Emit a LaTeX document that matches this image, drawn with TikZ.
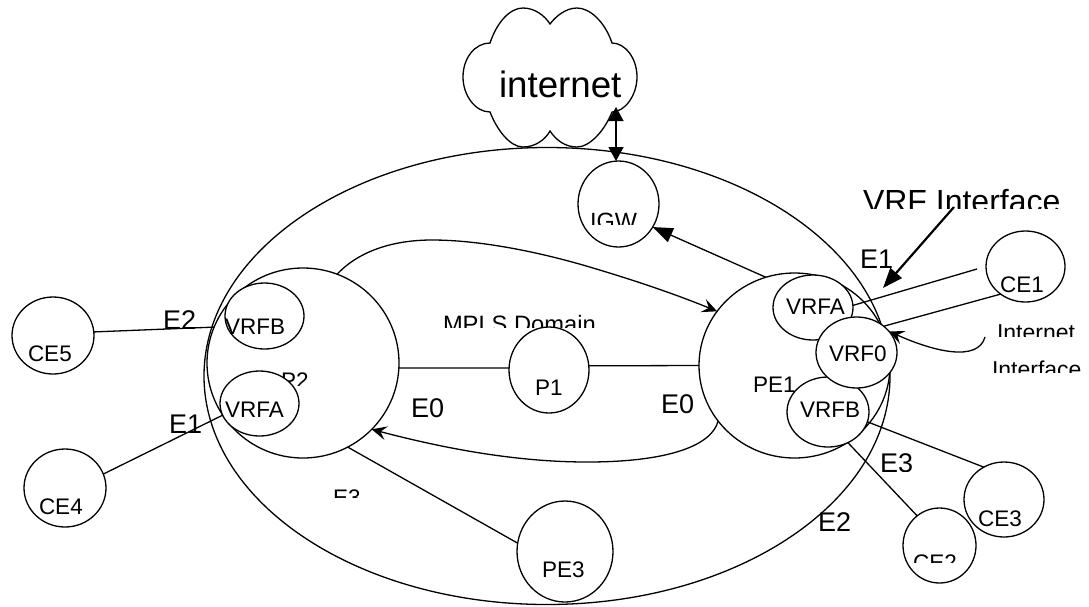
\documentclass[tikz,border=0pt]{standalone}
\usepackage{fontspec}
\setmainfont{Liberation Sans}
\usetikzlibrary{arrows.meta,shapes.geometric}
\tikzset{
  x=1pt,y=-1pt,
  conn/.style={line width=1.3pt,draw=black},
  blob/.style={ellipse,draw=black,fill=white,line width=1.3pt,inner sep=0pt,outer sep=0pt},
  tb/.style={inner sep=0pt,outer sep=0pt,anchor=base west,text=black},
  s22/.style={tb,font=\fontsize{22.5}{24}\selectfont},
  s27/.style={tb,font=\fontsize{27}{30}\selectfont},
  big/.style={-{Triangle[length=20pt,width=15pt]}},
  dbl/.style={{Triangle[length=14pt,width=15pt]}-{Triangle[length=14pt,width=15pt]}},
  curv/.style={-{Stealth[length=15pt,width=14pt,inset=6pt]}},
}
\begin{document}
\begin{tikzpicture}
\useasboundingbox (0,0) rectangle (1089,606);
% MPLS domain
\node[blob,fill=none,minimum width=686pt,minimum height=457pt] (dom) at (547,376) {};
% cloud
\draw[conn,fill=white] (490,43)
  .. controls (497,22) and (510,8) .. (523,8)
  .. controls (535,8) and (545,16) .. (550,24)
  .. controls (556,16) and (566,8) .. (577,8)
  .. controls (590,8) and (605,22) .. (612,43)
  .. controls (625,43) and (637,58) .. (637,77)
  .. controls (637,95) and (625,112) .. (612,112)
  .. controls (605,130) and (590,147) .. (577,147)
  .. controls (565,147) and (556,140) .. (550,131)
  .. controls (545,140) and (535,147) .. (523,147)
  .. controls (510,147) and (497,130) .. (490,112)
  .. controls (475,112) and (463,95) .. (463,77)
  .. controls (463,58) and (475,43) .. (490,43) -- cycle;
\coordinate (cloudport) at (616,107);
\node[tb,font=\fontsize{36.7}{40}\selectfont] (tinternet) at (499,97) {internet};
% routers
\node[blob,minimum width=192pt,minimum height=190pt] (p2) at (303,363) {};
\node[blob,minimum width=191pt,minimum height=185pt] (pe1) at (794.5,365.5) {};
\begin{scope}
  \clip (270,360) rectangle (320,385);
  \node[s22] (tp2) at (281,388) {P2};
\end{scope}
\node[blob,minimum width=79pt,minimum height=66pt] (vrfbl) at (264.5,316) {};
\node[blob,minimum width=79pt,minimum height=65pt] (vrfal) at (259.5,403.5) {};
\node[blob,minimum width=80pt,minimum height=65pt] (vrfar) at (813,307.5) {};
\node[blob,minimum width=82pt,minimum height=70pt] (vrfbr) at (828,412) {};
\node[blob,minimum width=81pt,minimum height=71pt] (vrf0) at (856.5,352.5) {};
\begin{scope}
  \clip (435,310) rectangle (600,327);
  \node[tb,font=\fontsize{23.7}{25}\selectfont] (tmpls) at (443,332) {MPLS Domain};
\end{scope}
\node[blob,minimum width=80pt,minimum height=86pt] (p1) at (549,370) {};
\node[blob,minimum width=81pt,minimum height=86pt] (igw) at (618.5,204) {};
\node[blob,minimum width=96pt,minimum height=101pt] (pe3) at (565,551.5) {};
\node[blob,minimum width=82pt,minimum height=77pt] (ce5) at (53,335.5) {};
\node[blob,minimum width=82pt,minimum height=78pt] (ce4) at (65,488) {};
\node[blob,minimum width=79pt,minimum height=71pt] (ce1) at (1025.5,266.5) {};
\node[blob,minimum width=80pt,minimum height=75pt] (ce3) at (1004,499.5) {};
\node[blob,minimum width=73pt,minimum height=75pt] (ce2) at (939.5,545.5) {};
% free ends
\coordinate (ce1free) at (977,269);
\coordinate (vrfhead) at (883,288);
\coordinate (vrftail) at (954,207);
\coordinate (inttail) at (985,337);
\coordinate (topa) at (432,240);
\coordinate (topb) at (593,268);
\coordinate (bota) at (587,462);
% connectors
\draw[conn,dbl] (cloudport) -- (igw.north -| cloudport);
\draw[conn,big] (pe1.108) -- (igw.-34);
\draw[conn] (p2.-3) -- (p1.177);
\draw[conn] (p1.6) -- (pe1.west);
\draw[conn,curv] (p2.69) .. controls (360,250) and (395,240) .. (topa) .. controls (480,240) and (540,252) .. (topb) .. controls (640,282) and (680,296) .. (pe1.145);
\draw[conn,curv] (pe1.216) .. controls (712,445) and (670,462) .. (bota) .. controls (520,462) and (450,450) .. (p2.-44);
\draw[conn] (p2.-62) -- (pe3.170);
\draw[conn] (ce5.5) -- (p2.158);
\draw[conn] (ce4.20) -- (p2.213);
\draw[conn] (vrfar.3) -- (ce1free);
\draw[conn] (ce1.228) -- (vrf0.44);
\draw[conn] (vrfbr.-14) -- (ce3.122);
\draw[conn] (vrfbr.-57) -- (ce2.127);
\draw[line width=2.2pt,big] (vrftail) -- (vrfhead);
\draw[conn,curv] (inttail) .. controls (978,362) and (935,352) .. (vrf0.33);
% labels
\begin{scope}
  \clip (855,180) rectangle (1070,208);
  \node[tb,font=\fontsize{32}{34}\selectfont] (tvrfi) at (863,212) {VRF Interface};
\end{scope}
\begin{scope}
  \clip (585,205) rectangle (645,224);
  \node[tb,font=\fontsize{23.5}{25}\selectfont] (tigw) at (590,229) {IGW};
\end{scope}
\begin{scope}
  \clip (325,485) rectangle (370,497);
  \node[s22] (te3a) at (333,505) {E3};
\end{scope}
\begin{scope}
  \clip (875,445) rectangle (920,471);
  \node[s27] (te3b) at (880,472) {E3};
\end{scope}
\begin{scope}
  \clip (905,550) rectangle (965,562);
  \node[s22] (tce2) at (913,570) {CE2};
\end{scope}
\begin{scope}
  \clip (990,318) rectangle (1085,336);
  \node[tb,font=\fontsize{23}{25}\selectfont] (tint1) at (997,340) {Internet};
\end{scope}
\begin{scope}
  \clip (985,355) rectangle (1089,372);
  \node[tb,font=\fontsize{23}{25}\selectfont] (tint2) at (992,377) {Interface};
\end{scope}
\begin{scope}
  \clip (155,300) rectangle (205,329);
  \node[s27] (te2l) at (163,329) {E2};
\end{scope}
\node[s27] (te1l) at (169,433) {E1};
\node[s27] (te1r) at (860,268) {E1};
\node[s27] (te0l) at (411,417) {E0};
\node[s27] (te0r) at (661,413) {E0};
\node[s27] (te2r) at (818,531) {E2};
\node[s22] (tp1) at (535,395) {P1};
\node[s22] (tpe1) at (753,392) {PE1};
\node[s22] (tpe3) at (542,577) {PE3};
\node[s22] (tce5) at (28,361) {CE5};
\node[s22] (tce4) at (39,514) {CE4};
\node[s22] (tce3) at (978,526) {CE3};
\node[s22] (tce1) at (1000,292) {CE1};
\node[s22] (tvbl) at (225,334) {VRFB};
\node[s22] (tval) at (225,417) {VRFA};
\node[s22] (tvar) at (786,314) {VRFA};
\node[s22] (tv0) at (829,361) {VRF0};
\node[s22] (tvbr) at (800,417) {VRFB};
\end{tikzpicture}
\end{document}
